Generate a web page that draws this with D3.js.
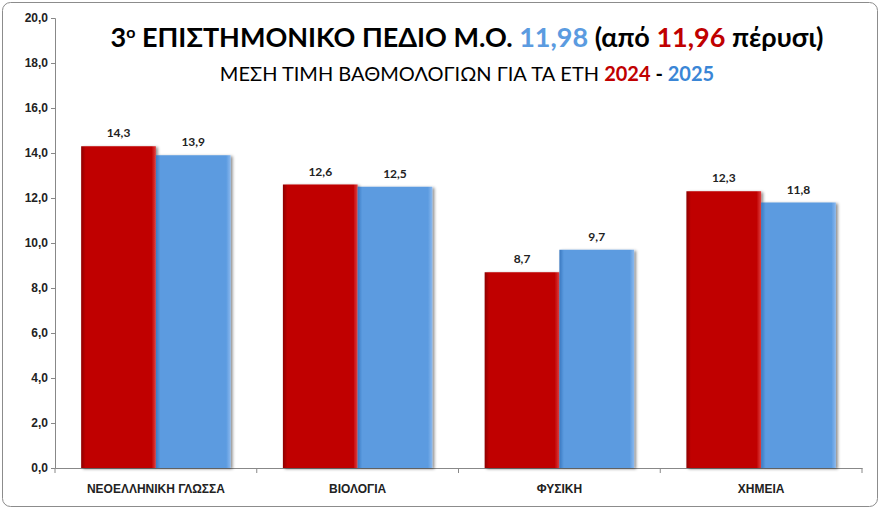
<!DOCTYPE html>
<html><head><meta charset="utf-8">
<script src="https://cdn.jsdelivr.net/npm/d3@7"></script>
<style>body{margin:0;background:#fff}svg{font-family:Lato,"Open Sans",sans-serif}</style>
</head><body>
<script>
// données du graphique
const categories = ["ΝΕΟΕΛΛΗΝΙΚΗ ΓΛΩΣΣΑ", "ΒΙΟΛΟΓΙΑ", "ΦΥΣΙΚΗ", "ΧΗΜΕΙΑ"];
const values2024 = [14.3, 12.6, 8.7, 12.3];
const values2025 = [13.9, 12.5, 9.7, 11.8];
const yTicks = [0, 2, 4, 6, 8, 10, 12, 14, 16, 18, 20];

const W = 880, H = 509;
const margin = {top: 18, right: 18, bottom: 41, left: 55};
const width = W - margin.left - margin.right, height = H - margin.top - margin.bottom;

const svg = d3.select("body").append("svg").attr("width", W).attr("height", H);
const defs = svg.append("defs");

// dégradés pour l'effet relief
function grad(id, dark, mid, light) {
  const g = defs.append("linearGradient").attr("id", id).attr("x1", 0).attr("x2", 1).attr("y1", 0).attr("y2", 0);
  g.append("stop").attr("offset", "0%").attr("stop-color", dark);
  g.append("stop").attr("offset", "6%").attr("stop-color", mid);
  g.append("stop").attr("offset", "94%").attr("stop-color", mid);
  g.append("stop").attr("offset", "100%").attr("stop-color", light);
}
grad("gRed", "#8e0000", "#c00000", "#e04040");
grad("gBlue", "#3a78c0", "#5b9be0", "#8ab8ee");
const f = defs.append("filter").attr("id", "shadow").attr("x", "-10%").attr("y", "-10%").attr("width", "130%").attr("height", "130%");
f.append("feDropShadow").attr("dx", 2).attr("dy", 1).attr("stdDeviation", 1.5).attr("flood-color", "#000").attr("flood-opacity", 0.45);

svg.append("rect").attr("x", 2.5).attr("y", 2.5).attr("width", W - 5).attr("height", H - 5)
  .attr("rx", 8).attr("fill", "#fff").attr("stroke", "#8c8c8c").attr("stroke-width", 1);

const g = svg.append("g").attr("transform", `translate(${margin.left},${margin.top})`);

const x0 = d3.scaleBand().domain(categories).range([0, width]);
const x1 = d3.scaleBand().domain(["2024", "2025"]).range([0, x0.bandwidth()]).paddingInner(0).paddingOuter(0.35);
const y = d3.scaleLinear().domain([0, 20]).range([height, 0]);

// axe Y
const ay = g.append("g").call(d3.axisLeft(y).tickValues(yTicks).tickFormat(d => d.toFixed(1).replace(".", ",")).tickSize(4));
ay.selectAll("text").style("font-size", "12px").style("font-weight", "bold").attr("fill", "#222");
ay.selectAll("line,path").attr("stroke", "#888");

// axe X
const ax = g.append("g").attr("transform", `translate(0,${height})`)
  .call(d3.axisBottom(x0).tickSize(0).tickPadding(16));
ax.selectAll("text").style("font-size", "12px").style("font-weight", "bold").attr("fill", "#222");
ax.selectAll("path").attr("stroke", "#888");
ax.selectAll(".sep").data(d3.range(categories.length + 1)).enter().append("line")
  .attr("x1", i => i * x0.step()).attr("x2", i => i * x0.step()).attr("y1", 0).attr("y2", 5).attr("stroke", "#888");

const series = [{k: "2024", v: values2024, fill: "url(#gRed)"}, {k: "2025", v: values2025, fill: "url(#gBlue)"}];
series.forEach(s => {
  g.selectAll(".b" + s.k).data(categories).enter().append("rect")
    .attr("x", d => x0(d) + x1(s.k)).attr("y", (d, i) => y(s.v[i]))
    .attr("width", x1.bandwidth()).attr("height", (d, i) => height - y(s.v[i]))
    .attr("fill", s.fill).attr("filter", "url(#shadow)");
  g.selectAll(".l" + s.k).data(categories).enter().append("text")
    .attr("x", d => x0(d) + x1(s.k) + x1.bandwidth() / 2).attr("y", (d, i) => y(s.v[i]) - 9)
    .attr("text-anchor", "middle").style("font-size", "12px").style("font-weight", "bold").attr("fill", "#222")
    .text((d, i) => s.v[i].toFixed(1).replace(".", ","));
});

// titres
const t1 = svg.append("text").attr("x", 467).attr("y", 47).attr("text-anchor", "middle")
  .style("font-size", "27px").style("font-weight", "bold");
t1.append("tspan").text("3");
t1.append("tspan").text("ο").attr("baseline-shift", "super").style("font-size", "16px");
t1.append("tspan").text(" ΕΠΙΣΤΗΜΟΝΙΚΟ ΠΕΔΙΟ Μ.Ο. ");
t1.append("tspan").text("11,98").attr("fill", "#5b9be0");
t1.append("tspan").text(" (από ");
t1.append("tspan").text("11,96").attr("fill", "#c00000");
t1.append("tspan").text(" πέρυσι)");

const t2 = svg.append("text").attr("x", 467).attr("y", 81).attr("text-anchor", "middle").style("font-size", "20px");
t2.append("tspan").text("ΜΕΣΗ ΤΙΜΗ ΒΑΘΜΟΛΟΓΙΩΝ ΓΙΑ ΤΑ ΕΤΗ ");
t2.append("tspan").text("2024").attr("fill", "#c00000").style("font-weight", "bold");
t2.append("tspan").text(" - ").style("font-weight", "bold");
t2.append("tspan").text("2025").attr("fill", "#3a86d6").style("font-weight", "bold");
</script>
</body></html>
